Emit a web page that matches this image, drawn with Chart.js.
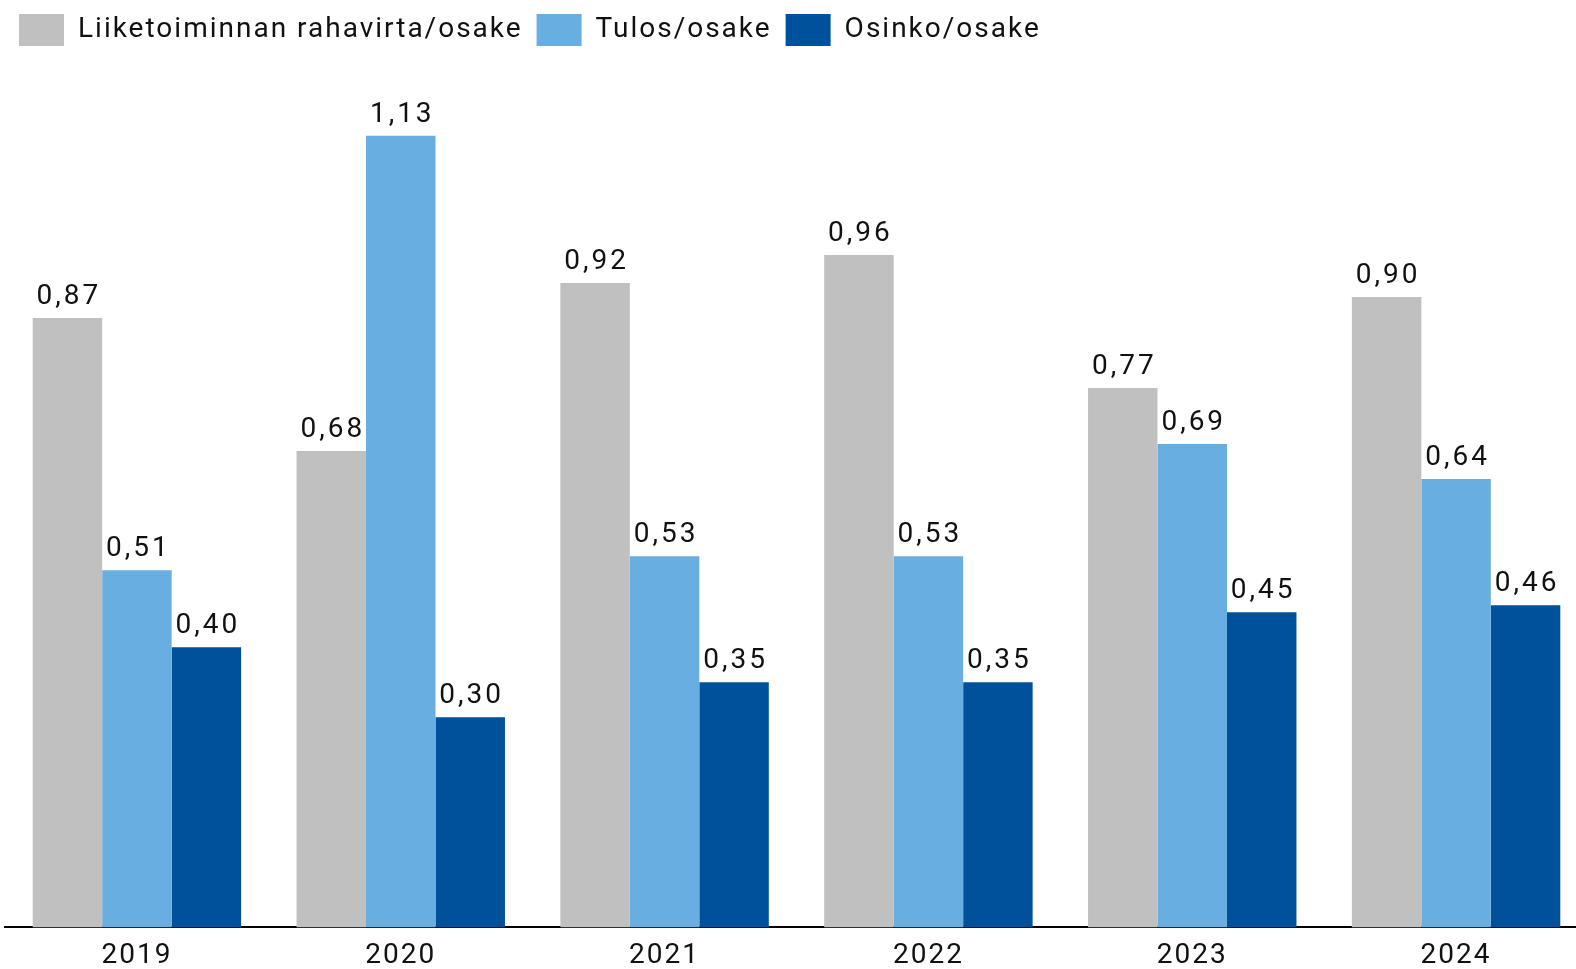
<!DOCTYPE html>
<html>
<head>
<meta charset="utf-8">
<script src="https://cdn.jsdelivr.net/npm/chart.js@4/dist/chart.umd.min.js"></script>
<style>
  html, body { margin: 0; padding: 0; background: #fff; overflow: hidden; }
  #wrap { position: relative; width: 1591px; height: 985px; }
</style>
</head>
<body>
<div id="wrap"><canvas id="chart"></canvas></div>
<script>
// Chart data
const years = ['2019', '2020', '2021', '2022', '2023', '2024'];
const cashFlowPerShare = [0.87, 0.68, 0.92, 0.96, 0.77, 0.90];
const earningsPerShare = [0.51, 1.13, 0.53, 0.53, 0.69, 0.64];
const dividendPerShare = [0.40, 0.30, 0.35, 0.35, 0.45, 0.46];

const fontFamily = 'Roboto, "Liberation Sans", sans-serif';

function fmt(v) {
  return v.toFixed(2).replace('.', ',');
}

// wider letter spacing, closer to the original font
const spacing = {
  id: 'spacing',
  beforeLayout(chart) { chart.ctx.letterSpacing = '2px'; },
  beforeDraw(chart) { chart.ctx.letterSpacing = '2px'; }
};

// Draws the value above each bar
const valueLabels = {
  id: 'valueLabels',
  afterDatasetsDraw(chart) {
    const ctx = chart.ctx;
    ctx.save();
    ctx.letterSpacing = '3px';
    ctx.font = '28px ' + fontFamily;
    ctx.fillStyle = '#111';
    ctx.textAlign = 'center';
    ctx.textBaseline = 'bottom';
    chart.data.datasets.forEach((ds, i) => {
      chart.getDatasetMeta(i).data.forEach((bar, j) => {
        ctx.fillText(fmt(ds.data[j]), bar.x + 1.5, bar.y - 7);
      });
    });
    ctx.restore();
  }
};

const ctx = document.getElementById('chart').getContext('2d');
new Chart(ctx, {
  type: 'bar',
  data: {
    labels: years,
    datasets: [
      {
        label: 'Liiketoiminnan rahavirta/osake',
        data: cashFlowPerShare,
        backgroundColor: '#c0c0c0',
      },
      {
        label: 'Tulos/osake',
        data: earningsPerShare,
        backgroundColor: '#69aee1',
      },
      {
        label: 'Osinko/osake',
        data: dividendPerShare,
        backgroundColor: '#00519b',
      },
    ],
  },
  options: {
    responsive: true,
    maintainAspectRatio: false,
    animation: false,
    layout: { padding: { left: 5, right: 3, top: 0, bottom: 0 } },
    datasets: {
      bar: { categoryPercentage: 0.79, barPercentage: 1.0 }
    },
    plugins: {
      tooltip: { enabled: false },
      legend: {
        position: 'top',
        align: 'start',
        labels: {
          boxWidth: 45,
          boxHeight: 32,
          padding: 14,
          color: '#111',
          font: { family: fontFamily, size: 28 },
        },
      },
    },
    scales: {
      x: {
        grid: { display: false, drawTicks: false },
        border: { display: true, color: '#000', width: 2 },
        ticks: {
          color: '#111',
          padding: 12,
          font: { family: fontFamily, size: 28 },
        },
      },
      y: {
        display: false,
        min: 0,
        max: 1.244,
      },
    },
  },
  plugins: [spacing, valueLabels],
});
</script>
</body>
</html>
